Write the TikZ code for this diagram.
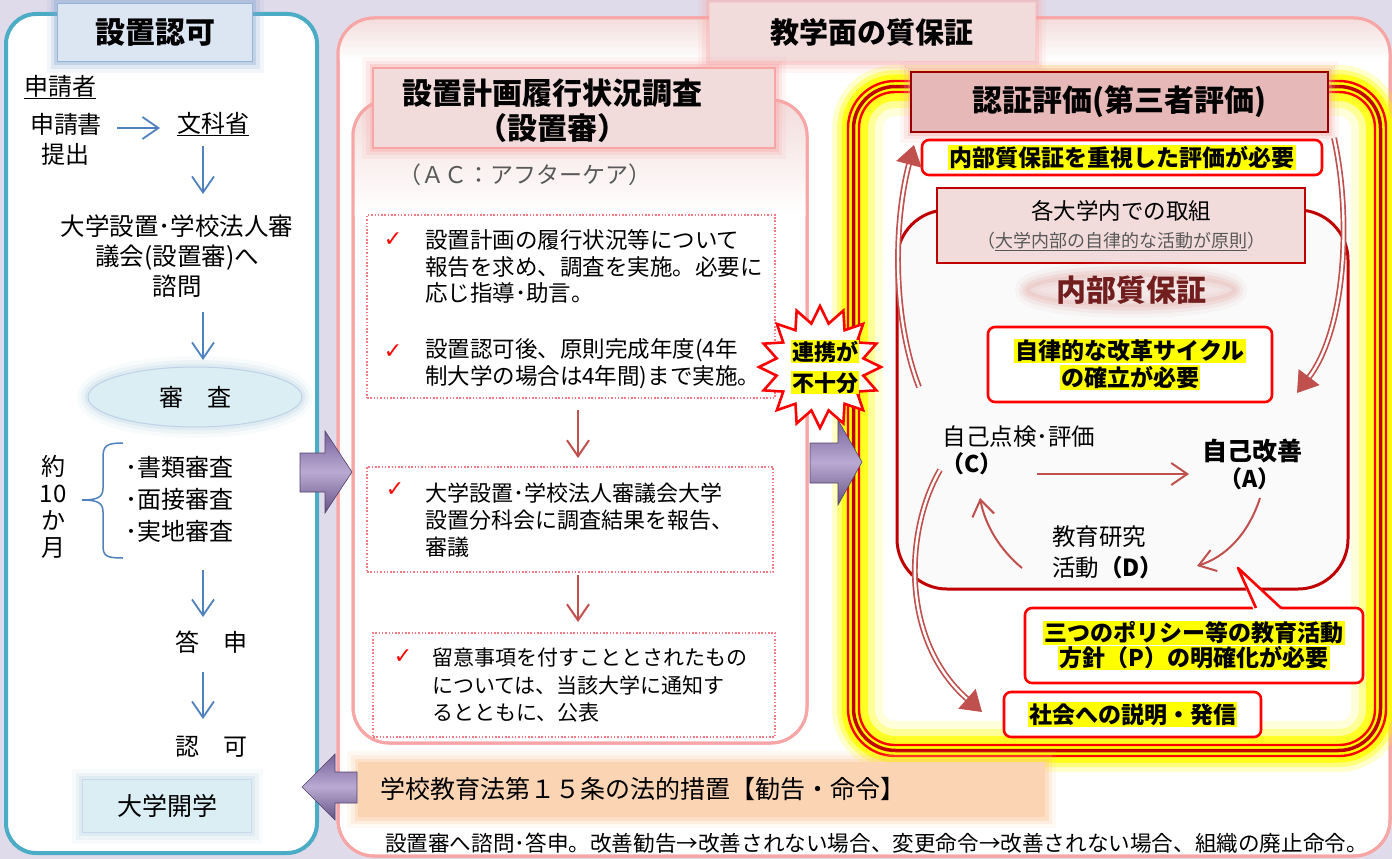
\documentclass[tikz,border=0pt]{standalone}
\usepackage{fontspec}
\setmainfont{Noto Sans CJK JP}
\newfontfamily\dvs{DejaVu Sans}
\usetikzlibrary{arrows.meta,shapes.geometric,calc}
\definecolor{bg}{RGB}{224,219,234}
\definecolor{tealb}{RGB}{75,172,198}
\definecolor{lblue}{RGB}{220,230,242}
\definecolor{lbluebd}{RGB}{149,179,215}
\definecolor{arrowblue}{RGB}{79,129,189}
\definecolor{lcyan}{RGB}{218,238,243}
\definecolor{pinkbd}{RGB}{247,165,165}
\definecolor{pinkfill}{RGB}{242,220,219}
\definecolor{rosefill}{RGB}{230,185,184}
\definecolor{brick}{RGB}{192,80,77}
\definecolor{dred}{RGB}{192,0,0}
\definecolor{peach}{RGB}{251,212,180}
\definecolor{glowy}{RGB}{255,255,0}
\definecolor{grayt}{RGB}{89,89,89}
\definecolor{purpA}{RGB}{186,170,210}
\definecolor{purpB}{RGB}{118,96,155}
\definecolor{maroon}{RGB}{115,30,30}
\definecolor{dotpink}{RGB}{245,120,130}
\newcommand\fz[2]{\fontsize{#1}{#2}\selectfont}
\newcommand\yg[1]{{\setlength{\fboxsep}{1.2pt}\colorbox{glowy}{#1}}}
\newcommand\ck{{\dvs\color{red}\fz{22}{22}✓}}
\begin{document}
\begin{tikzpicture}[x=1pt,y=-1pt,
  every node/.style={inner sep=0pt,outer sep=0pt},
  glow/.style={preaction={draw=#1,line width=22pt,opacity=0.10},
               preaction={draw=#1,line width=14pt,opacity=0.18},
               preaction={draw=#1,line width=7pt,opacity=0.3}},
  barrow/.style={draw=arrowblue,line width=1.8pt,-{Straight Barb[length=16pt,width=22pt]}},
  rarrow/.style={draw=brick,line width=2pt,-{Straight Barb[length=16pt,width=22pt]}},
  dblarrow/.style={draw=brick,double=white,double distance=2.4pt,line width=1.7pt,-{Triangle[length=20pt,width=26pt]}},
  dotbox/.style={rectangle,draw=dotpink,line width=1.3pt,dash pattern=on 1.5pt off 1.8pt},
  redbox/.style={rectangle,draw=red,line width=2.6pt,rounded corners=7pt,fill=white},
  purp/.style={draw=purpB!70!black,line width=0.6pt,top color=purpB,bottom color=purpB!85!black,middle color=purpA},
]
% background
\fill[bg] (0,0) rectangle (1392,859);
\useasboundingbox (0,0) rectangle (1392,859);

% ===== middle big panel =====
\draw[pinkbd,line width=3pt,fill=white,rounded corners=36pt] (338,18) rectangle (1390,856);
\begin{scope}
\clip[rounded corners=36pt] (338,18) rectangle (1390,856);
\shade[top color=pinkfill,bottom color=white] (338,18) rectangle (1390,60);
\end{scope}
\draw[pinkbd,line width=3pt,rounded corners=36pt] (338,18) rectangle (1390,856);

% ===== right panel (certified evaluation) =====
\foreach \w/\o in {30/0.2,20/0.4,11/0.8}
  \draw[glowy,line width=\w pt,opacity=\o,rounded corners=48pt] (847,80) rectangle (1387,757);
\begin{scope}
\clip[rounded corners=36pt] (859,92) rectangle (1375,745);
\foreach \w/\o in {48/0.15,32/0.3,18/0.75}
  \draw[glowy,line width=\w pt,opacity=\o,rounded corners=36pt] (859,92) rectangle (1375,745);
\end{scope}
\draw[glowy,line width=13pt,rounded corners=42pt] (853.5,86.5) rectangle (1380.5,750.5);
\draw[red,line width=2.4pt,rounded corners=47pt] (848,81) rectangle (1386,756);
\draw[dred,line width=3.5pt,rounded corners=42pt] (853.5,86.5) rectangle (1380.5,750.5);
\draw[red,line width=2.4pt,rounded corners=36pt] (859,92) rectangle (1375,745);

% inner region
\draw[dred,line width=3pt,fill=black!2,rounded corners=50pt] (897,210) rectangle (1348,589);

% ===== left panel =====
\draw[tealb,line width=4pt,fill=white,rounded corners=30pt] (6,14) rectangle (317,853);
\node[rectangle,fill=lblue,draw=lbluebd,line width=1pt,minimum width=195pt,minimum height=58pt,glow=arrowblue!70,font=\bfseries\fz{30}{30}] (tA) at (155,33) {設置認可};
\node[font=\fz{24}{24}] (app) at (60,87) {\underline{申請者}};
\node[font=\fz{24}{30},align=center] (sub) at (66,139) {申請書\\提出};
\node[font=\fz{24}{24}] (mext) at (213,124) {\underline{文科省}};
\node[font=\fz{24.5}{30},align=center] (cons) at (177,256) {大学設置･学校法人審\\議会(設置審)へ\\諮問};
\node[ellipse,fill=lcyan,draw=lbluebd!60,line width=1pt,minimum width=214pt,minimum height=60pt,glow=lcyan!80!arrowblue,font=\fz{24}{24}] (exam) at (195,397) {審　査};
\node[font=\fz{24}{27},align=center] (dur) at (53,507) {約\\10\\か\\月};
\node[anchor=west,font=\fz{24}{32},align=left] (items) at (125,499) {･書類審査\\･面接審査\\･実地審査};
\node[font=\fz{24}{24}] (ans) at (211,642) {答　申};
\node[font=\fz{24}{24}] (appr) at (211,747) {認　可};
\node[rectangle,fill=lcyan,draw=lbluebd!50,line width=0.8pt,minimum width=169pt,minimum height=53pt,glow=lcyan!80!arrowblue,font=\fz{25}{25}] (open) at (167,806) {大学開学};
% brace
\draw[arrowblue,line width=1.5pt] (123,443) .. controls (106,443) and (103,446) .. (103,458) -- (103,488) .. controls (103,497) and (98,500) .. (82,500) .. controls (98,500) and (103,503) .. (103,512) -- (103,545) .. controls (103,556) and (106,558) .. (123,558);
% blue arrows
\coordinate (a1s) at (117,128); \coordinate (a1e) at (160,128);
\coordinate (a2s) at (203,146); \coordinate (a2e) at (203,194);
\coordinate (a3s) at (203,312); \coordinate (a3e) at (203,360);
\coordinate (a4s) at (203,570); \coordinate (a4e) at (203,617);
\coordinate (a5s) at (203,672); \coordinate (a5e) at (203,719);
\draw[barrow] (a1s) -- (a1e);
\draw[barrow] (a2s) -- (a2e);
\draw[barrow] (a3s) -- (a3e);
\draw[barrow] (a4s) -- (a4e);
\draw[barrow] (a5s) -- (a5e);

% ===== middle column =====
\node[rectangle,fill=pinkfill,draw=pinkbd!60,line width=1pt,minimum width=326pt,minimum height=59pt,glow=pinkbd,font=\bfseries\fz{29}{29}] (tB) at (872,32.5) {教学面の質保証};

\draw[pinkbd,line width=3pt,fill=white,rounded corners=36pt] (353,100) rectangle (807,743);
\begin{scope}
\clip[rounded corners=36pt] (353,100) rectangle (807,743);
\shade[top color=pinkfill,bottom color=white] (353,100) rectangle (807,215);
\end{scope}
\draw[pinkbd,line width=3pt,rounded corners=36pt] (353,100) rectangle (807,743);
\node[rectangle,fill=pinkfill,draw=pinkbd,line width=1.2pt,minimum width=402pt,minimum height=80pt,glow=pinkbd] (tC) at (574,108) {};
\node[font=\bfseries\fz{30}{35},align=center] (tCt) at (552,110.5) {設置計画履行状況調査\\（設置審）};
\node[font=\fz{23}{23},text=grayt] (ac) at (525,175) {（ＡＣ：アフターケア）};

\node[dotbox,minimum width=408pt,minimum height=183pt] (d1) at (571,306.5) {};
\node[dotbox,minimum width=406pt,minimum height=105pt] (d2) at (570,519.5) {};
\node[dotbox,minimum width=402pt,minimum height=104pt] (d3) at (574,685) {};
\node (k1) at (393,240) {\ck};
\node (k2) at (393,352) {\ck};
\node (k3) at (395,490) {\ck};
\node (k4) at (403,657) {\ck};
\node[anchor=west,align=left,font=\fz{22.5}{26.5}] (b1) at (425,266.5) {設置計画の履行状況等について\\報告を求め、調査を実施。必要に\\応じ指導･助言。};
\node[anchor=west,align=left,font=\fz{22.5}{27}] (b2) at (425,363.5) {設置認可後、原則完成年度(4年\\制大学の場合は4年間)まで実施。};
\node[anchor=west,align=left,font=\fz{22}{27}] (b3) at (425,520) {大学設置･学校法人審議会大学\\設置分科会に調査結果を報告、\\審議};
\node[anchor=west,align=left,font=\fz{21}{27.5}] (b4) at (432,685.5) {留意事項を付すこととされたもの\\については、当該大学に通知す\\るとともに、公表};
\coordinate (m1s) at (578,410); \coordinate (m1e) at (578,458);
\coordinate (m2s) at (578,575); \coordinate (m2e) at (578,622);
\draw[rarrow] (m1s) -- (m1e);
\draw[rarrow] (m2s) -- (m2e);

% law box and note
\node[rectangle,fill=peach,minimum height=55pt,inner xsep=22pt,text width=643pt,align=left,glow=peach!80!orange,font=\fz{25}{25}] (law) at (701.5,789.5) {学校教育法第１５条の法的措置【勧告・命令】};
\node[anchor=west,font=\fz{21.6}{22}] (note) at (385,843) {設置審へ諮問･答申。改善勧告→改善されない場合、変更命令→改善されない場合、組織の廃止命令。};

% purple block arrows
\path[purp] (300,453) -- (325,453) -- (325,431) -- (352,472) -- (325,513) -- (325,492) -- (300,492) -- cycle;
\path[purp] (810,443) -- (838,443) -- (838,420) -- (862,462) -- (838,505) -- (838,483) -- (810,483) -- cycle;
\path[purp] (357,772) -- (335,772) -- (335,754) -- (302,787) -- (335,820) -- (335,803) -- (357,803) -- cycle;

% ===== right panel contents =====
\node[rectangle,fill=rosefill,draw=dred!80!black,line width=1.2pt,minimum width=417pt,minimum height=60pt,glow=pinkbd,font=\bfseries\fz{30}{30}] (tD) at (1119.5,102) {認証評価(第三者評価)};
\node[redbox,minimum width=400pt,minimum height=35pt,font=\bfseries\fz{23}{23}] (need1) at (1122,157.5) {\yg{内部質保証を重視した評価が必要}};
\node[rectangle,fill=pinkfill,draw=dred,line width=1.2pt,minimum width=368pt,minimum height=75pt,align=center,font=\fz{22.5}{28}] (uni) at (1121,225.5) {各大学内での取組\\{\color{grayt}\fontsize{18}{28}\selectfont （\underline{大学内部の自律的な活動が原則}）}};
\node[ellipse,minimum width=210pt,minimum height=34pt,fill=rosefill,opacity=0.25,draw=orange!50,glow=rosefill] (iqaG) at (1131,290) {};
\node[font=\bfseries\fz{30}{30},text=maroon] (iqa) at (1131,290) {内部質保証};
\node[redbox,minimum width=284pt,minimum height=75pt,align=center,font=\bfseries\fz{23}{27}] (need2) at (1130,364.5) {\yg{自律的な改革サイクル}\\\yg{の確立が必要}};

\node[font=\fz{23.5}{23.5}] (cC1) at (1019,437) {自己点検･評価};
\node[font=\bfseries\fz{23}{23}] (cC2) at (972,464) {（C）};
\node[font=\bfseries\fz{25}{25}] (aA1) at (1252,451) {自己改善};
\node[font=\bfseries\fz{23}{23}] (aA2) at (1250,479) {（A）};
\node[anchor=west,align=left,font=\fz{23.5}{31}] (dD) at (1052,552) {教育研究\\活動{\bfseries （D）}};

\coordinate (caS) at (1037,474); \coordinate (caE) at (1189,474);
\coordinate (adS) at (1260,498); \coordinate (adE) at (1197,566);
\coordinate (dcS) at (1022,568); \coordinate (dcE) at (980,498);
\draw[rarrow] (caS) -- (caE);
\draw[rarrow] (adS) .. controls (1248,535) and (1225,557) .. (adE);
\draw[rarrow] (dcS) .. controls (1000,550) and (985,525) .. (dcE);

\node[redbox,minimum width=338pt,minimum height=75pt,align=center,font=\bfseries\fz{23}{25}] (pol) at (1194,645.5) {\yg{三つのポリシー等の教育活動}\\\yg{方針（P）の明確化が必要}};
\fill[white] (1254,611) -- (1238,568) -- (1283,611) -- cycle;
\draw[red,line width=2.6pt,line join=round] (1256,608) -- (1238,568) -- (1281,608);
\node[redbox,minimum width=257pt,minimum height=45pt,font=\bfseries\fz{23}{23}] (soc) at (1132.5,714.5) {\yg{社会への説明・発信}};

\coordinate (u1s) at (919,387); \coordinate (u1e) at (914,145);
\coordinate (u2s) at (1334,138); \coordinate (u2e) at (1297,393);
\coordinate (u3s) at (940,470); \coordinate (u3e) at (982,712);
\draw[dblarrow] (u1s) .. controls (893,320) and (893,225) .. (u1e);
\draw[dblarrow] (u2s) .. controls (1352,220) and (1345,330) .. (u2e);
\draw[dblarrow] (u3s) .. controls (905,530) and (900,640) .. (u3e);

% star
\node[star,star points=16,star point ratio=1.38,draw=red,line width=2.6pt,fill=white,minimum size=122pt] (star) at (820,367) {};
\node[font=\bfseries\fz{22}{31},align=center] (starT) at (825,367) {\yg{連携が}\\\yg{不十分}};
\end{tikzpicture}
\end{document}
